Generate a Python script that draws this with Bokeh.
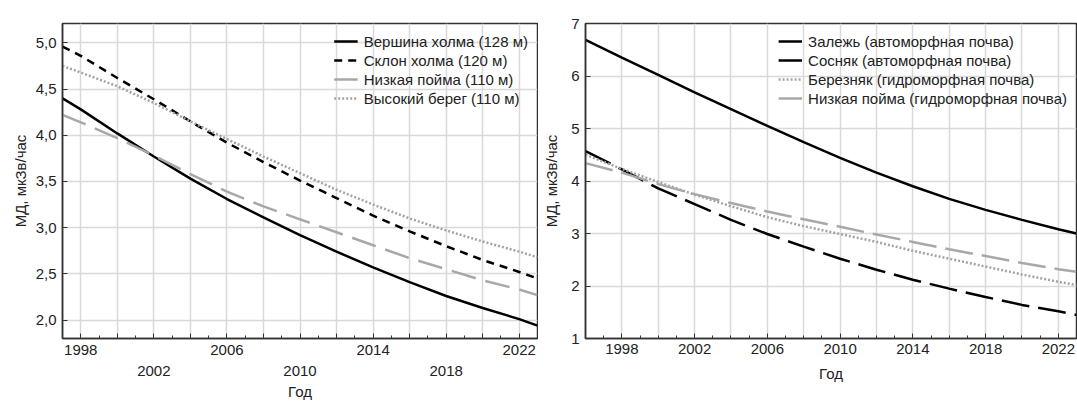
from bokeh.plotting import figure
from bokeh.models import (FixedTicker, LinearAxis, Range1d, Legend, LegendItem,
                          CustomJSTickFormatter)
from bokeh.layouts import row
from bokeh.embed import file_html
from bokeh.resources import INLINE

# ---------------- data ----------------
years_left = [1997, 1998, 2000, 2002, 2004, 2006, 2008, 2010, 2012, 2014, 2016, 2018, 2020, 2022, 2023]
vershina = [4.40, 4.28, 4.02, 3.77, 3.53, 3.31, 3.11, 2.92, 2.74, 2.57, 2.41, 2.26, 2.13, 2.01, 1.94]
sklon = [4.96, 4.86, 4.62, 4.39, 4.15, 3.92, 3.71, 3.51, 3.32, 3.13, 2.96, 2.80, 2.65, 2.52, 2.45]
nizk_poyma_l = [4.22, 4.14, 3.97, 3.78, 3.58, 3.39, 3.23, 3.09, 2.95, 2.81, 2.67, 2.55, 2.43, 2.33, 2.27]
vysokiy_bereg = [4.75, 4.68, 4.53, 4.35, 4.15, 3.96, 3.77, 3.59, 3.41, 3.25, 3.10, 2.97, 2.85, 2.74, 2.68]
labels_left = ["Вершина холма (128 м)", "Склон холма (120 м)", "Низкая пойма (110 м)", "Высокий берег (110 м)"]

years_right = [1996, 1998, 2000, 2002, 2004, 2006, 2008, 2010, 2012, 2014, 2016, 2018, 2020, 2022, 2023]
zalezh = [6.69, 6.35, 6.02, 5.69, 5.37, 5.05, 4.74, 4.44, 4.16, 3.90, 3.66, 3.45, 3.26, 3.08, 3.00]
sosnyak = [4.57, 4.22, 3.86, 3.56, 3.26, 2.99, 2.75, 2.52, 2.31, 2.12, 1.95, 1.79, 1.64, 1.52, 1.45]
bereznyak = [4.50, 4.23, 3.98, 3.74, 3.52, 3.31, 3.14, 2.99, 2.84, 2.67, 2.52, 2.37, 2.22, 2.08, 2.02]
nizk_poyma_r = [4.34, 4.16, 3.94, 3.75, 3.58, 3.42, 3.27, 3.13, 2.98, 2.84, 2.70, 2.57, 2.44, 2.32, 2.27]
labels_right = ["Залежь (автоморфная почва)", "Сосняк (автоморфная почва)",
                "Березняк (гидроморфная почва)", "Низкая пойма (гидроморфная почва)"]

x_title = "Год"
y_title = "МД, мкЗв/час"

FONT = "Liberation Sans"
FS = "15px"
GRID = "#d9d9d9"
AXC = "#333333"
GRAY_DASH = "#a8a8a8"
GRAY_DOT = "#a3a3a3"


def base_fig(width, xr, yr, ml, mr, mt, mb):
    p = figure(width=width, height=403, x_range=Range1d(*xr), y_range=Range1d(*yr),
               output_backend="svg", toolbar_location=None,
               min_border_left=ml, min_border_right=mr, min_border_top=mt, min_border_bottom=mb)
    p.background_fill_color = "white"
    p.border_fill_color = "white"
    p.outline_line_color = AXC
    p.outline_line_width = 1.5
    p.outline_line_alpha = 1
    p.xgrid.grid_line_color = GRID
    p.ygrid.grid_line_color = GRID
    p.xgrid.grid_line_width = 1.5
    p.ygrid.grid_line_width = 1.5
    for ax in (p.xaxis[0], p.yaxis[0]):
        ax.axis_line_color = AXC
        ax.axis_line_width = 1.5
        ax.major_tick_line_color = AXC
        ax.minor_tick_line_color = AXC
        ax.major_tick_in = 5
        ax.major_tick_out = 0
        ax.minor_tick_in = 3
        ax.minor_tick_out = 0
        ax.major_label_text_font = FONT
        ax.major_label_text_font_size = FS
        ax.major_label_text_color = "#222222"
        ax.axis_label_text_font = FONT
        ax.axis_label_text_font_size = FS
        ax.axis_label_text_font_style = "normal"
        ax.axis_label_text_color = "#222222"
    p.yaxis[0].axis_label = y_title
    p.yaxis[0].minor_tick_line_color = None
    p.yaxis[0].major_label_standoff = 6
    return p


def add_legend(p, renderers, labels):
    items = [LegendItem(label=l, renderers=[r]) for l, r in zip(labels, renderers)]
    leg = Legend(items=items, location="top_right")
    leg.background_fill_alpha = 0
    leg.border_line_alpha = 0
    leg.label_text_font = FONT
    leg.label_text_font_size = FS
    leg.label_text_color = "#222222"
    leg.glyph_width = 24
    leg.glyph_height = 18
    leg.label_height = 18
    leg.spacing = 1
    leg.padding = 4
    leg.margin = 5
    leg.label_standoff = 6
    p.add_layout(leg)


# ---------------- left chart ----------------
p1 = base_fig(538, (1997, 2023), (1.80, 5.21), 62, 1, 23, 65)
ticks2 = list(range(1998, 2023, 2))
xa = p1.xaxis[0]
xa.ticker = FixedTicker(ticks=ticks2, minor_ticks=list(range(1997, 2024)))
row1 = [1998, 2006, 2014, 2022]
xa.major_label_overrides = {t: (str(t) if t in row1 else "") for t in ticks2}
xa.major_label_standoff = 6
p1.xgrid.ticker = FixedTicker(ticks=ticks2)
ya = p1.yaxis[0]
ya.ticker = FixedTicker(ticks=[2.0, 2.5, 3.0, 3.5, 4.0, 4.5, 5.0])
ya.formatter = CustomJSTickFormatter(code="return tick.toFixed(1).replace('.', ',');")
ya.axis_label_standoff = 4

xa2 = LinearAxis(ticker=FixedTicker(ticks=[2002, 2010, 2018]))
xa2.axis_line_color = None
xa2.major_tick_line_color = None
xa2.minor_tick_line_color = None
xa2.major_label_standoff = 2
xa2.major_label_text_font = FONT
xa2.major_label_text_font_size = FS
xa2.major_label_text_color = "#222222"
xa2.axis_label = x_title
xa2.axis_label_text_font = FONT
xa2.axis_label_text_font_size = FS
xa2.axis_label_text_font_style = "normal"
xa2.axis_label_text_color = "#222222"
xa2.axis_label_standoff = 4
p1.add_layout(xa2, "below")

r1 = p1.line(years_left, vershina, line_color="black", line_width=2.5)
r2 = p1.line(years_left, sklon, line_color="black", line_width=2.5, line_dash="8 6")
r3 = p1.line(years_left, nizk_poyma_l, line_color=GRAY_DASH, line_width=2.5, line_dash="25 10")
r4 = p1.line(years_left, vysokiy_bereg, line_color=GRAY_DOT, line_width=2.5, line_dash="2 2")
add_legend(p1, [r1, r2, r3, r4], labels_left)

# ---------------- right chart ----------------
p2 = base_fig(539, (1996, 2023), (1, 7), 47, 1, 18, 47)
xb = p2.xaxis[0]
xb.ticker = FixedTicker(ticks=list(range(1998, 2023, 4)), minor_ticks=list(range(1996, 2024)))
xb.major_label_standoff = 5
xb.axis_label = x_title
xb.axis_label_standoff = 8
p2.xgrid.ticker = FixedTicker(ticks=list(range(1998, 2023, 2)))
yb = p2.yaxis[0]
yb.ticker = FixedTicker(ticks=[1, 2, 3, 4, 5, 6, 7])
yb.axis_label_standoff = 8

q1 = p2.line(years_right, zalezh, line_color="black", line_width=2.5)
q2 = p2.line(years_right, sosnyak, line_color="black", line_width=2.5, line_dash="28 9")
q3 = p2.line(years_right, bereznyak, line_color=GRAY_DOT, line_width=2.5, line_dash="2 2")
q4 = p2.line(years_right, nizk_poyma_r, line_color=GRAY_DASH, line_width=2.5, line_dash="28 9")
add_legend(p2, [q1, q2, q3, q4], labels_right)

layout = row(p1, p2)
open("out.html", "w").write(file_html(layout, INLINE))
